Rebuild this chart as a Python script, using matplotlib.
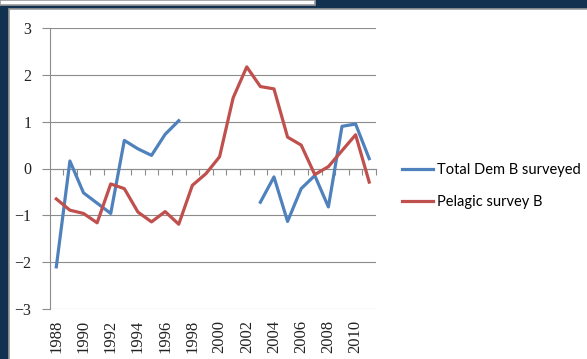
import numpy as np
import matplotlib.pyplot as plt
from matplotlib.patches import Rectangle

years = list(range(1988, 2012))
dem_b = [-2.10, 0.16, -0.52, -0.74, -0.96, 0.60, 0.42, 0.28, 0.73, 1.02,
         np.nan, np.nan, np.nan, np.nan, np.nan,
         -0.72, -0.18, -1.13, -0.43, -0.15, -0.82, 0.90, 0.95, 0.21]
pelagic_b = [-0.65, -0.89, -0.96, -1.16, -0.33, -0.43, -0.93, -1.14, -0.92, -1.19,
             -0.36, -0.11, 0.25, 1.51, 2.17, 1.75, 1.70, 0.67, 0.50, -0.13,
             0.04, 0.38, 0.72, -0.29]
year_labels = [str(y) if y % 2 == 0 else "" for y in years]

navy = "#12304f"
grid_c = "#8c8c8c"

fig = plt.figure(figsize=(5.87, 3.59), dpi=100)
fig.patch.set_facecolor(navy)

# slide panels behind the chart
W, H = 587.0, 359.0
fig.patches.append(Rectangle((0, 1 - 5 / H), 315 / W, 5 / H, transform=fig.transFigure,
                             facecolor="white", edgecolor="#9a9a9a", lw=1.2, zorder=-10))
fig.patches.append(Rectangle((9 / W, -0.01), 1.0, 1 - 9 / H + 0.01, transform=fig.transFigure,
                             facecolor="white", edgecolor="#9a9a9a", lw=1.2, zorder=-10))

ax = fig.add_axes([49.5 / W, 1 - 309 / H, (376 - 49.5) / W, (309 - 28) / H])
ax.set_facecolor("none")

x = np.arange(len(years)) + 0.5
l1, = ax.plot(x, dem_b, color="#4f81bd", lw=2.3, solid_joinstyle="round",
              label="Total Dem B surveyed", zorder=3)
l2, = ax.plot(x, pelagic_b, color="#c0504d", lw=2.3, solid_joinstyle="round",
              label="Pelagic survey B", zorder=3)

ax.set_xlim(0, len(years))
ax.set_ylim(-3, 3)
ax.set_yticks(range(-3, 4))
ax.yaxis.grid(True, color=grid_c, lw=0.8)
ax.set_axisbelow(True)

for s in ["top", "right"]:
    ax.spines[s].set_visible(False)
ax.spines["left"].set_color(grid_c)
ax.spines["left"].set_linewidth(0.8)
ax.spines["bottom"].set_position(("data", 0))
ax.spines["bottom"].set_color(grid_c)
ax.spines["bottom"].set_linewidth(0.8)

ax.set_xticks(np.arange(1, len(years) + 1))
ax.set_xticklabels([])
ax.tick_params(axis="x", length=4, width=0.8, color=grid_c, direction="out")
ax.tick_params(axis="y", length=6, width=0.8, color=grid_c, pad=7,
               labelsize=11.5, labelcolor="#222222")
for t in ax.get_yticklabels():
    t.set_family("Liberation Serif")

# year labels along the bottom of the plot area
sec = ax.secondary_xaxis(0)
sec.set_xticks(x)
sec.set_xticklabels(year_labels, rotation=90, family="Liberation Serif",
                    fontsize=12, color="#222222")
sec.tick_params(length=0, pad=8)
sec.spines["bottom"].set_visible(False)

fig.legend(handles=[l1, l2], loc="center left", bbox_to_anchor=(402 / W, 1 - 186 / H),
           frameon=False, borderpad=0, borderaxespad=0,
           handlelength=2.15, handletextpad=0.27,
           labelspacing=1.2, prop={"family": "Lato", "size": 10.5})

fig.savefig("out.png", dpi=100, facecolor=fig.get_facecolor())
